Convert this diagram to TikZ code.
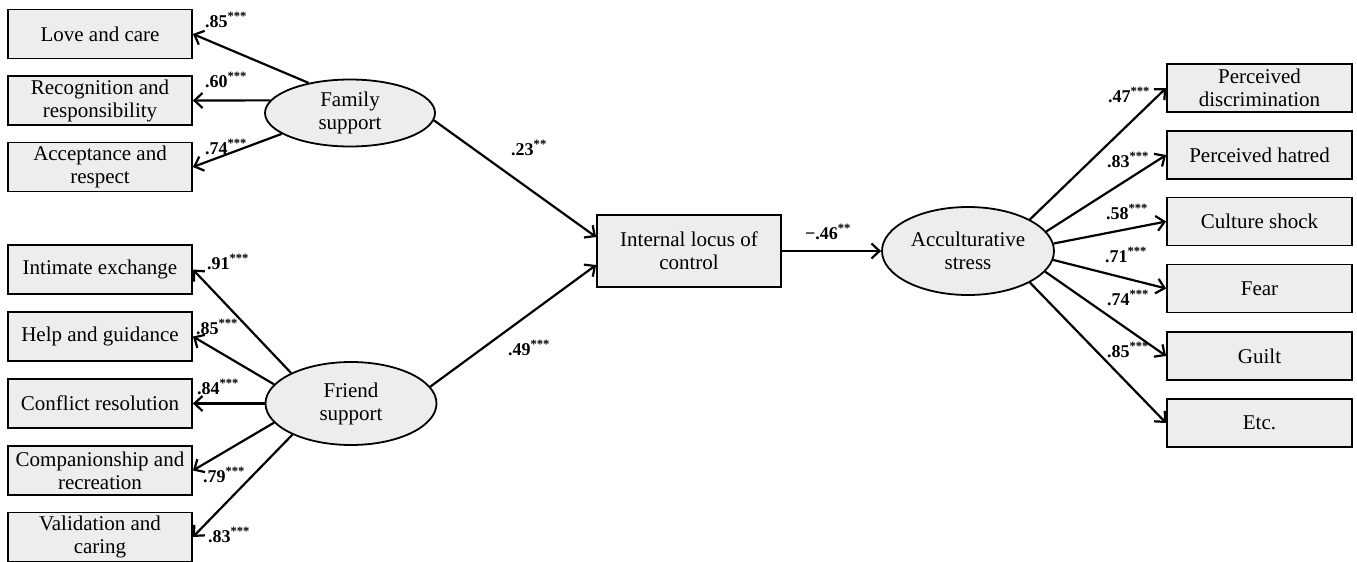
\documentclass[tikz,border=0pt]{standalone}
\usepackage{fontspec}
\setmainfont{Liberation Serif}
\usetikzlibrary{shapes.geometric,arrows.meta}
\definecolor{boxgray}{HTML}{EDEDED}
\newcommand{\sig}[1]{\textsuperscript{#1}}

\begin{document}
\begin{tikzpicture}[x=1pt,y=-1pt,
  box/.style={draw, line width=1.8pt, fill=boxgray, inner sep=0pt,
    minimum width=184pt, minimum height=49pt, align=center,
    font=\fontsize{21}{23}\selectfont},
  latent/.style={ellipse, draw, line width=1.8pt, fill=boxgray, inner sep=0pt,
    align=center, font=\fontsize{21}{23}\selectfont},
  link/.style={line width=2.2pt, -{Straight Barb[length=8pt,width=15pt]}},
  coef/.style={inner sep=0pt, font=\fontsize{18}{20}\selectfont\bfseries}
]
\useasboundingbox (0,0) rectangle (1357,562);

% family support indicators
\node[box] (love) at (100,34) {Love and care};
\node[box] (rec)  at (100,100.5) {Recognition and\\responsibility};
\node[box] (acc)  at (100,167) {Acceptance and\\respect};

% friend support indicators
\node[box] (inti) at (100,269.5) {Intimate exchange};
\node[box] (help) at (100,336.5) {Help and guidance};
\node[box] (conf) at (100,403.5) {Conflict resolution};
\node[box] (comp) at (100,470.5) {Companionship and\\recreation};
\node[box] (vali) at (100,537) {Validation and\\caring};

% latent variables and mediator
\node[latent, minimum width=170pt, minimum height=67pt] (fam) at (350,113) {Family\\support};
\node[latent, minimum width=171pt, minimum height=83pt] (fri) at (351,403.5) {Friend\\support};
\node[box, minimum height=72pt] (loc) at (689,251) {Internal locus of\\control};
\node[latent, minimum width=172pt, minimum height=88pt] (acs) at (968,251) {Acculturative\\stress};

% acculturative stress indicators
\node[box, minimum width=185pt, minimum height=48pt] (pdis) at (1259.5,88) {Perceived\\discrimination};
\node[box, minimum width=185pt, minimum height=48pt] (phat) at (1259.5,155) {Perceived hatred};
\node[box, minimum width=185pt, minimum height=48pt] (cult) at (1259.5,221.5) {Culture shock};
\node[box, minimum width=185pt, minimum height=48pt] (fear) at (1259.5,288.5) {Fear};
\node[box, minimum width=185pt, minimum height=48pt] (guil) at (1259.5,356) {Guilt};
\node[box, minimum width=185pt, minimum height=48pt] (etc)  at (1259.5,423) {Etc.};

% loadings
\draw[link] (fam.144) -- (love.east);
\draw[link] (fam.171) -- (rec.east);
\draw[link] (fam.197) -- (acc.east);

\draw[link] (fri.153) -- (inti.east);
\draw[link] (fri.166) -- (help.east);
\draw[link] (fri.west) -- (conf.east);
\draw[link] (fri.194) -- (comp.east);
\draw[link] (fri.208) -- (vali.east);

\draw[link] (acs.27) -- (pdis.west);
\draw[link] (acs.14) -- (phat.west);
\draw[link] (acs.5) -- (cult.west);
\draw[link] (acs.-6) -- (fear.west);
\draw[link] (acs.-15) -- (guil.west);
\draw[link] (acs.-27) -- (etc.west);

% structural paths
\draw[link] (fam.-5) -- ([yshift=14pt]loc.west);
\draw[link] (fri.12) -- ([yshift=-14pt]loc.west);
\draw[link] (loc.east) -- (acs.west);

% coefficients
\node[coef] (c1) at (226,20) {.85\sig{***}};
\node[coef] (c2) at (226,80) {.60\sig{***}};
\node[coef] (c3) at (226,147) {.74\sig{***}};
\node[coef] (c4) at (228,262) {.91\sig{***}};
\node[coef] (c5) at (217,327) {.85\sig{***}};
\node[coef] (c6) at (218,387) {.84\sig{***}};
\node[coef] (c7) at (224,475) {.79\sig{***}};
\node[coef] (c8) at (229,535) {.83\sig{***}};
\node[coef] (c9) at (529,148) {.23\sig{**}};
\node[coef] (c10) at (529,348) {.49\sig{***}};
\node[coef] (c11) at (828,232) {−.46\sig{**}};
\node[coef] (c12) at (1129,95) {.47\sig{***}};
\node[coef] (c13) at (1128,160) {.83\sig{***}};
\node[coef] (c14) at (1127,212) {.58\sig{***}};
\node[coef] (c15) at (1126,255) {.71\sig{***}};
\node[coef] (c16) at (1128,298) {.74\sig{***}};
\node[coef] (c17) at (1128,350) {.85\sig{***}};
\end{tikzpicture}
\end{document}
